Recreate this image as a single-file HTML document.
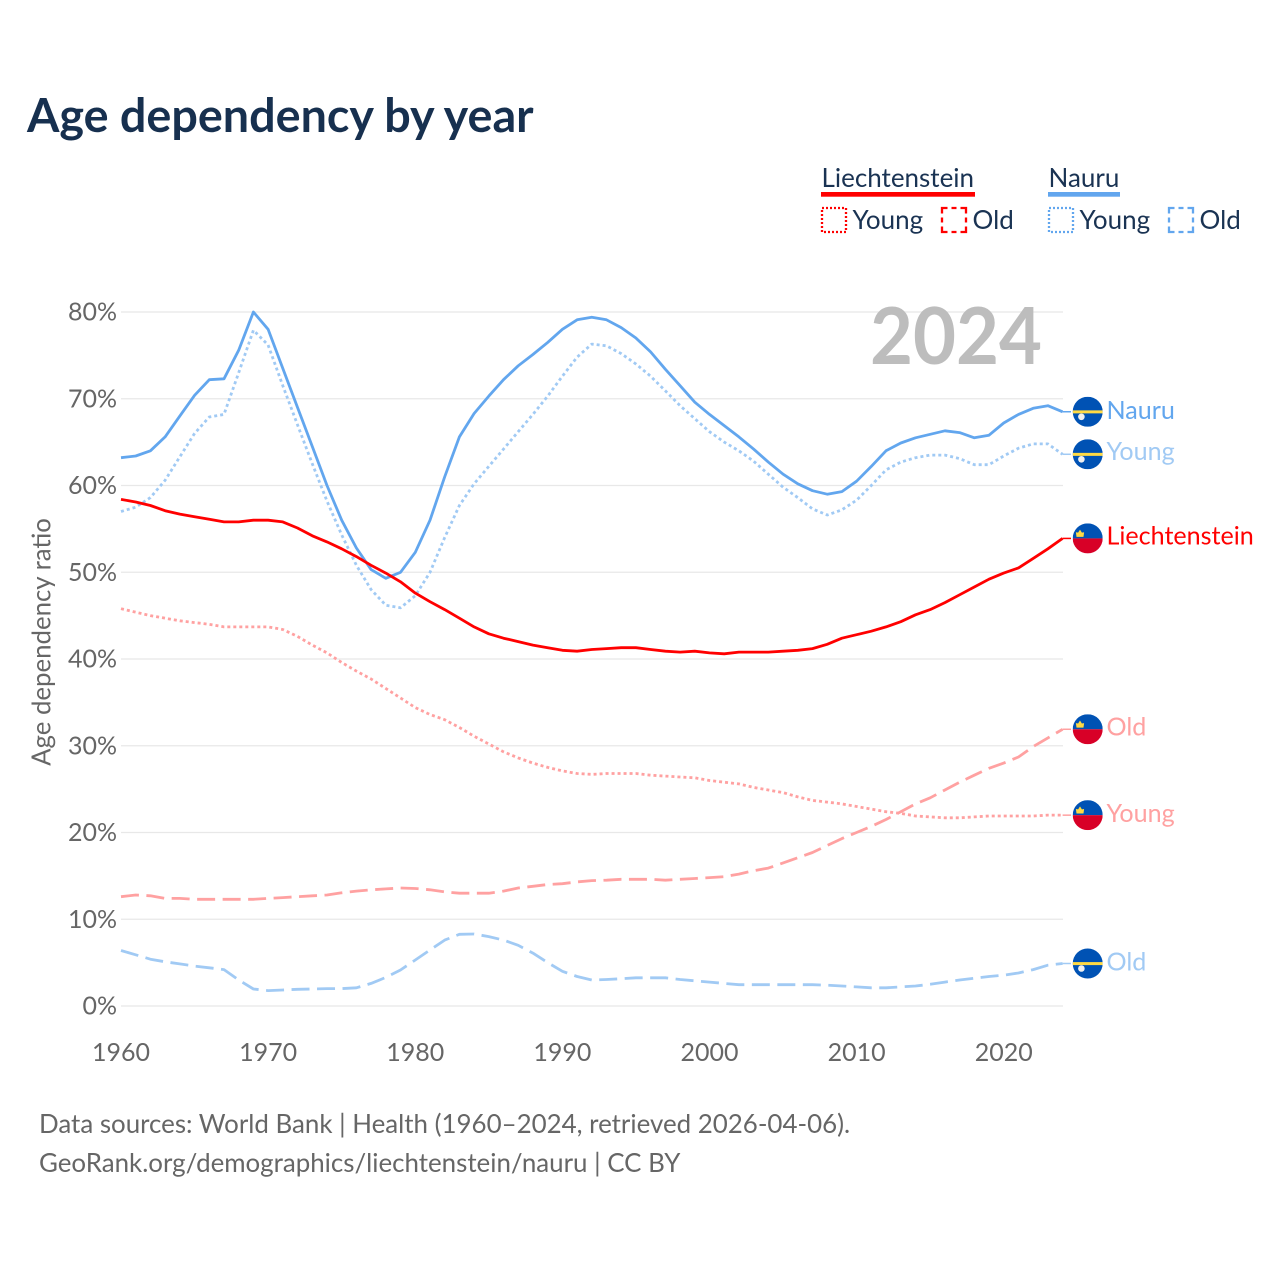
<!DOCTYPE html>
<html lang="en">
<head>
<meta charset="utf-8">
<title>Age dependency by year</title>
<style>
html,body{margin:0;padding:0;background:#fff;}
svg{display:block;}
text{font-family:"Lato","Carlito","Liberation Sans",sans-serif;}
</style>
</head>
<body>
<svg id="chart" xmlns="http://www.w3.org/2000/svg" width="1280" height="1280" viewBox="0 0 1280 1280">
  <rect width="1280" height="1280" fill="#fff"/>
  <defs>
    <clipPath id="flag-clip"><circle cx="0" cy="0" r="15"/></clipPath>
  </defs>
  <text x="27" y="132" font-size="46.7" font-weight="700" fill="#17304f">Age dependency by year</text>

  <g font-size="26" fill="#1a3353">
    <text x="821.5" y="187">Liechtenstein</text>
    <rect x="821" y="192" width="154" height="4.7" fill="#ff0000"/>
    <rect x="822" y="208" width="24" height="24" fill="none" stroke="#ff0000" stroke-width="2.3" stroke-dasharray="2 2"/>
    <text x="852.5" y="229">Young</text>
    <rect x="942" y="208" width="24" height="24" fill="none" stroke="#ff0000" stroke-width="2.3" stroke-dasharray="11 4 5 4" stroke-dashoffset="5.5"/>
    <text x="972.5" y="229">Old</text>
    <text x="1048.5" y="187">Nauru</text>
    <rect x="1048" y="192" width="72" height="4.7" fill="#62a6ee"/>
    <rect x="1049" y="208" width="24" height="24" fill="none" stroke="#62a6ee" stroke-width="2.3" stroke-dasharray="2 2"/>
    <text x="1079.5" y="229">Young</text>
    <rect x="1169" y="208" width="24" height="24" fill="none" stroke="#62a6ee" stroke-width="2.3" stroke-dasharray="11 4 5 4" stroke-dashoffset="5.5"/>
    <text x="1199.5" y="229">Old</text>
  </g>

  <g id="grid"></g>
  <g id="yticks" font-size="25" fill="#666"></g>
  <g id="xticks" font-size="25" fill="#666"></g>

  <text transform="translate(50.5,642) rotate(-90)" text-anchor="middle" font-size="25.8" fill="#666">Age dependency ratio</text>
  <text x="870" y="364" font-size="79" font-weight="700" fill="#bdbdbd" textLength="172" lengthAdjust="spacingAndGlyphs">2024</text>

  <g id="series"></g>
  <g id="endcaps"></g>

  <text x="39" y="1133" font-size="25.9" fill="#666">Data sources: World Bank | Health (1960–2024, retrieved 2026-04-06).</text>
  <text x="39" y="1172" font-size="25.9" fill="#666">GeoRank.org/demographics/liechtenstein/nauru | CC BY</text>
</svg>

<script>
const startYear = 1960;
const endYear = 2024;
const yTickValues = [0, 10, 20, 30, 40, 50, 60, 70, 80];
const yTickLabels = ["0%", "10%", "20%", "30%", "40%", "50%", "60%", "70%", "80%"];
const xTickLabels = [1960, 1970, 1980, 1990, 2000, 2010, 2020];

const nauruTotal = [
  63.2,63.4,64.0,65.6,68.0,70.4,72.2,72.3,75.6,80.0,
  78.0,73.5,69.0,64.5,60.0,56.0,52.8,50.3,49.3,50.0,
  52.3,56.0,61.0,65.6,68.3,70.3,72.2,73.8,75.1,76.5,
  78.0,79.1,79.4,79.1,78.2,77.0,75.4,73.4,71.5,69.6,
  68.2,66.9,65.6,64.2,62.7,61.3,60.2,59.4,59.0,59.3,
  60.5,62.2,64.0,64.9,65.5,65.9,66.3,66.1,65.5,65.8,
  67.2,68.2,68.9,69.2,68.5];
const nauruYoung = [
  57.0,57.5,58.6,60.6,63.3,66.0,67.9,68.2,73.0,77.9,
  76.2,71.5,67.0,62.5,58.2,54.3,50.8,48.0,46.2,45.9,
  47.3,50.0,54.0,57.7,60.2,62.2,64.2,66.2,68.2,70.3,
  72.6,74.8,76.3,76.1,75.2,74.0,72.6,70.9,69.2,67.7,
  66.2,65.0,64.0,62.8,61.3,59.8,58.6,57.3,56.6,57.2,
  58.3,60.0,61.8,62.7,63.2,63.5,63.5,63.1,62.4,62.4,
  63.4,64.3,64.8,64.8,63.6];
const nauruOld = [
  6.4,5.9,5.4,5.1,4.85,4.6,4.4,4.2,3.0,1.96,
  1.77,1.85,1.92,1.96,2.0,2.0,2.1,2.6,3.3,4.15,
  5.3,6.45,7.6,8.26,8.3,8.0,7.6,7.0,6.1,5.0,
  4.0,3.4,3.0,3.05,3.15,3.25,3.25,3.25,3.05,2.9,
  2.75,2.6,2.45,2.45,2.45,2.45,2.45,2.45,2.4,2.3,
  2.2,2.1,2.1,2.2,2.3,2.5,2.75,3.0,3.2,3.4,
  3.55,3.8,4.2,4.7,4.9];
const liechtensteinTotal = [
  58.4,58.1,57.7,57.1,56.7,56.4,56.1,55.8,55.8,56.0,
  56.0,55.8,55.1,54.2,53.5,52.7,51.8,50.8,49.9,48.9,
  47.6,46.6,45.7,44.7,43.7,42.9,42.4,42.0,41.6,41.3,
  41.0,40.9,41.1,41.2,41.3,41.3,41.1,40.9,40.8,40.9,
  40.7,40.6,40.8,40.8,40.8,40.9,41.0,41.2,41.7,42.4,
  42.8,43.2,43.7,44.3,45.1,45.7,46.5,47.4,48.3,49.2,
  49.9,50.5,51.6,52.7,53.9];
const liechtensteinYoung = [
  45.8,45.4,45.0,44.7,44.4,44.2,44.0,43.7,43.7,43.7,
  43.7,43.4,42.6,41.6,40.7,39.6,38.6,37.7,36.6,35.5,
  34.4,33.6,33.0,32.1,31.1,30.2,29.3,28.6,28.0,27.5,
  27.1,26.8,26.7,26.8,26.8,26.8,26.6,26.5,26.4,26.3,
  26.0,25.8,25.6,25.2,24.9,24.6,24.1,23.7,23.5,23.3,
  23.0,22.7,22.4,22.2,21.9,21.8,21.7,21.7,21.8,21.9,
  21.9,21.9,21.9,22.0,22.0];
const liechtensteinOld = [
  12.6,12.8,12.7,12.4,12.4,12.3,12.3,12.3,12.3,12.3,
  12.4,12.5,12.6,12.7,12.8,13.05,13.25,13.4,13.5,13.6,
  13.55,13.4,13.15,13.0,13.0,13.0,13.25,13.6,13.8,14.0,
  14.1,14.3,14.45,14.5,14.6,14.6,14.6,14.5,14.6,14.7,
  14.8,14.9,15.2,15.6,15.9,16.5,17.1,17.7,18.5,19.3,
  20.0,20.7,21.5,22.4,23.3,24.0,24.9,25.8,26.6,27.4,
  28.0,28.7,29.9,30.9,31.9];

const NS = "http://www.w3.org/2000/svg";
function xScale(year) { return 121 + (year - startYear) * (1062.6 - 121) / (endYear - startYear); }
function yScale(v) { return 1006 - v * 8.675; }
function make(tag, attrs, parent) {
  const el = document.createElementNS(NS, tag);
  for (const k in attrs) el.setAttribute(k, attrs[k]);
  parent.appendChild(el);
  return el;
}

const gridG = document.getElementById("grid");
const yG = document.getElementById("yticks");
const xG = document.getElementById("xticks");
yTickValues.forEach(function (v, i) {
  const line = make("line", {x1: 121, x2: 1063, y1: yScale(v), y2: yScale(v), stroke: "#e8e8e8", "stroke-width": 1.3}, gridG);
  
  
  const t = make("text", {x: 117, y: yScale(v) + 8.5, "text-anchor": "end"}, yG);
  
  
  t.textContent = yTickLabels[i];
});
xTickLabels.forEach(function (yr) {
  const t = make("text", {x: xScale(yr), y: 1061, "text-anchor": "middle"}, xG);
  
  
  t.textContent = yr;
});

function drawLine(values, colour, dash, name) {
  const pts = values.map(function (v, i) { return xScale(startYear + i).toFixed(1) + "," + yScale(v).toFixed(1); });
  const attrs = {points: pts.join(" "), fill: "none", stroke: colour, "stroke-width": 2.8, "stroke-linejoin": "round"};
  if (dash) attrs["stroke-dasharray"] = dash;
  const el = make("polyline", attrs, document.getElementById("series"));
  
  
  const lastY = yScale(values[values.length - 1]);
  const link = make("line", {x1: xScale(endYear), x2: 1071, y1: lastY, y2: lastY, stroke: colour, "stroke-width": 1.5}, document.getElementById("series"));
  
  
}

const blue = "#62a6ee", lightBlue = "#a1caf4", red = "#ff0000", lightRed = "#ffa1a1";
drawLine(nauruOld, lightBlue, "18 7.5", "line-nauru-old");
drawLine(nauruYoung, lightBlue, "3 3", "line-nauru-young");
drawLine(nauruTotal, blue, null, "line-nauru-total");
drawLine(liechtensteinOld, lightRed, "18 7.5", "line-liechtenstein-old");
drawLine(liechtensteinYoung, lightRed, "3 3", "line-liechtenstein-young");
drawLine(liechtensteinTotal, red, null, "line-liechtenstein-total");

function drawFlag(parent, cy, country) {
  const g = make("g", {transform: "translate(1087.7," + cy + ")", "clip-path": "url(#flag-clip)"}, parent);
  
  
  if (country === "nauru") {
    make("rect", {x: -15, y: -15, width: 30, height: 30, fill: "#0052b4"}, g);
    make("rect", {x: -15, y: -1.4, width: 30, height: 3, fill: "#ffda44"}, g);
    make("circle", {cx: -6.3, cy: 5, r: 3.3, fill: "#f0f0f0"}, g);
  } else {
    make("rect", {x: -15, y: -15, width: 30, height: 15, fill: "#0052b4"}, g);
    make("rect", {x: -15, y: 0, width: 30, height: 15, fill: "#d80027"}, g);
    make("path", {d: "M-11.2,-1.6 L-11.8,-6.2 L-9.6,-5.8 L-7.7,-8.8 L-5.8,-5.8 L-3.6,-6.2 L-4.2,-1.6 Z", fill: "#ffda44"}, g);
  }
}

function drawEnd(values, country, text, colour, dy, name) {
  const parent = document.getElementById("endcaps");
  const cy = yScale(values[values.length - 1]);
  drawFlag(parent, cy, country);
  const t = make("text", {x: 1106.5, y: cy + dy, "font-size": 25.1, fill: colour}, parent);
  
  
  t.textContent = text;
}
drawEnd(nauruTotal, "nauru", "Nauru", blue, 7, "end-label-nauru-total");
drawEnd(nauruYoung, "nauru", "Young", lightBlue, 5.5, "end-label-nauru-young");
drawEnd(nauruOld, "nauru", "Old", lightBlue, 7, "end-label-nauru-old");
drawEnd(liechtensteinTotal, "liechtenstein", "Liechtenstein", red, 6, "end-label-liechtenstein-total");
drawEnd(liechtensteinYoung, "liechtenstein", "Young", lightRed, 7, "end-label-liechtenstein-young");
drawEnd(liechtensteinOld, "liechtenstein", "Old", lightRed, 6, "end-label-liechtenstein-old");
</script>
</body>
</html>
